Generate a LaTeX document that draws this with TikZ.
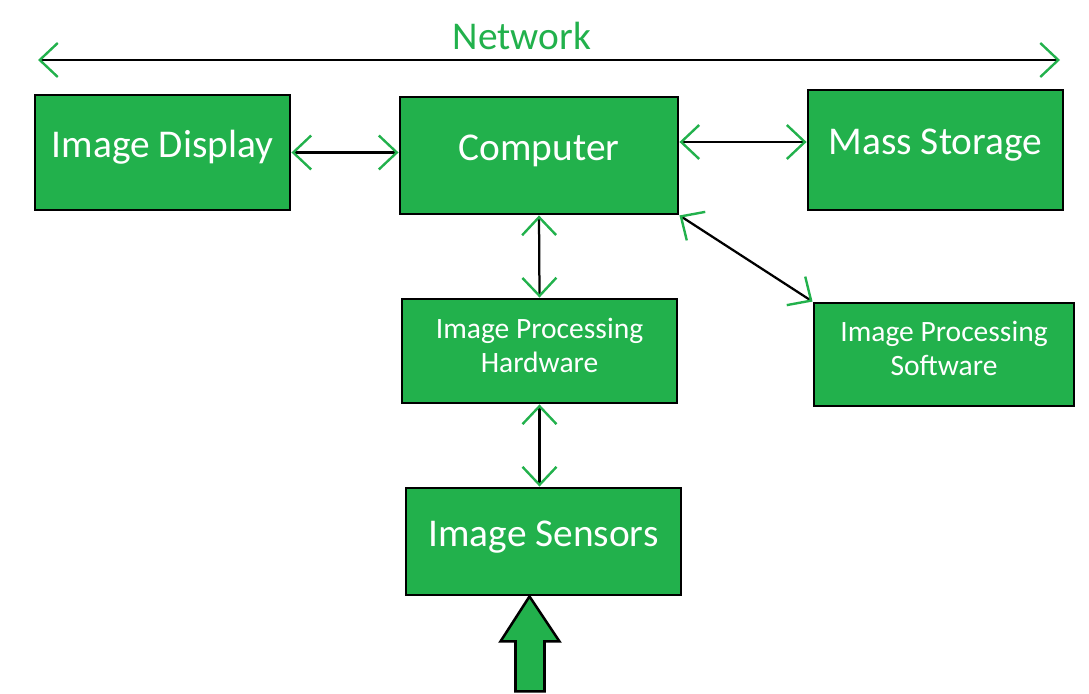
\documentclass[tikz,border=0pt]{standalone}
\usepackage{fontspec}
\setmainfont{Carlito}
\usetikzlibrary{arrows.meta,calc}
\definecolor{gc}{RGB}{34,177,76}
\tikzset{blk/.style={draw,line width=2pt,fill=gc,text=white,inner sep=0pt,text height=.7cm,text depth=.475cm,font=\fontsize{28}{32}\selectfont},
 sm/.style={draw,line width=2pt,fill=gc,text=white,inner sep=0pt,align=center,font=\fontsize{21}{24}\selectfont,
  execute at end node={\rule[-.3cm]{0pt}{0pt}}},
 barb/.tip={Straight Barb[color=gc,length=4.5mm,width=8.5mm,line width=1.7pt]},
 link/.style={barb-barb,line width=1.6pt},
 fat/.style={draw,fill=gc,line width=1.8pt,line join=miter}}
\begin{document}
\begin{tikzpicture}[x=.025cm,y=.025cm]
\useasboundingbox (0,0) rectangle (1089,693);
\node[blk,minimum width=6.375cm,minimum height=2.875cm] (disp) at (162.5,540.5) {Image Display};
\node[blk,minimum width=6.95cm,minimum height=2.925cm] (comp) at (539,537.5) {Computer};
\node[blk,minimum width=6.375cm,minimum height=3cm] (mass) at (935.5,543) {Mass Storage};
\node[sm,minimum width=6.875cm,minimum height=2.6cm] (iph) at (539.5,342) {Image Processing\\Hardware};
\node[sm,minimum width=6.5cm,minimum height=2.575cm] (ips) at (944,338.5) {Image Processing\\Software};
\node[blk,minimum width=6.875cm,minimum height=2.675cm] (sens) at (543.5,151.5) {Image Sensors};
% network bus
\coordinate (netl) at (38,633);\coordinate (netr) at (1060,633);
\draw[link] (netl)--(netr);
\node[text=gc,font=\fontsize{28}{32}\selectfont] (net) at (522,657) {Network};
% links
\draw[link] (disp.east)--(disp.east -| comp.west);
\draw[link] ($(mass.west -| comp.east)+(0,8)$)--($(mass.west)+(0,8)$);
\draw[link] (comp.south)--(iph.north);
\draw[link] (comp.south east)--(ips.north west);
\draw[link] (iph.south)--(iph.south |- sens.north);
% light input
\draw[fat] ($(sens.south)+(-14,0)$)--++(30,-45)--++(-15,0)--++(0,-50)--++(-29,0)--++(0,50)--++(-15,0)--cycle;
\end{tikzpicture}
\end{document}
